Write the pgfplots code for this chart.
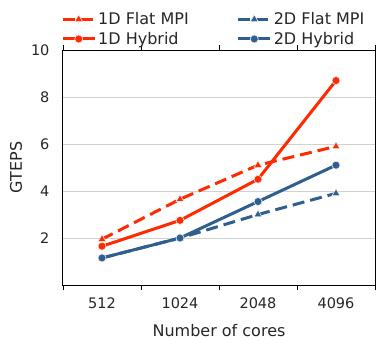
\documentclass[border=0pt]{standalone}
\usepackage{fontspec}
\setmainfont{DejaVu Sans}
\usepackage{pgfplots}
\pgfplotsset{compat=1.18}
\definecolor{cred}{HTML}{FF2A00}
\definecolor{cblue}{HTML}{2F5F8F}
\begin{document}
\begin{tikzpicture}[x=1pt,y=1pt]
\useasboundingbox (-63,-56) rectangle (327,285);
\begin{axis}[at={(0,0)}, anchor=south west, scale only axis,
  width=312pt, height=235pt,
  xmin=-0.5, xmax=3.5, ymin=0, ymax=10,
  xtick={0,1,2,3}, xticklabels={512,1024,2048,4096},
  minor xtick={-0.5,0.5,1.5,2.5,3.5},
  ytick={2,4,6,8,10},
  major tick length=0pt, minor tick length=5pt, tick align=outside,
  minor tick style={black, line width=0.8pt},
  ymajorgrids, grid style={draw=black!18, line width=0.8pt},
  axis line style={black, line width=1pt},
  /pgf/number format/assume math mode=true,
  ticklabel style={font=\fontsize{14.5}{15}\selectfont, text=black!85},
  yticklabel style={xshift=-10pt},
  xticklabel style={yshift=-9pt},
  every axis y label/.style={at={(axis description cs:-0.12,0.5)}, rotate=90, anchor=south, font=\fontsize{16}{16}\selectfont, text=black!85},
  every axis x label/.style={at={(axis description cs:0.5,0)}, anchor=north, yshift=-36pt, font=\fontsize{16}{16}\selectfont, text=black!85},
  ylabel={GTEPS}, xlabel={Number of cores},
  legend columns=2, legend cell align=left,
  legend style={draw=none, fill=none, at={(axis description cs:0,1)}, anchor=south west, xshift=-2pt, yshift=2pt,
    font=\fontsize{16}{17}\selectfont, text=black!85,
    /tikz/every even column/.append style={column sep=46pt}, row sep=2pt, inner sep=0pt},
  legend image code/.code={\draw[mark repeat=2,mark phase=2] plot coordinates {(0pt,0pt) (16pt,0pt) (32pt,0pt)};},
]
\addplot[cred, line width=3pt, dash pattern=on 12pt off 6pt, mark=triangle*, mark size=4.5pt, mark options={solid, fill=cred, draw=white!85!gray, line width=0.6pt}]
  coordinates {(0,1.95) (1,3.65) (2,5.1) (3,5.9)};
\addlegendentry{1D Flat MPI}
\addplot[cblue, line width=3pt, dash pattern=on 12pt off 6pt, mark=triangle*, mark size=4.5pt, mark options={solid, fill=cblue, draw=white!85!gray, line width=0.6pt}]
  coordinates {(0,1.15) (1,2.0) (2,3.0) (3,3.9)};
\addlegendentry{2D Flat MPI}
\addplot[cred, line width=3pt, mark=*, mark size=4pt, mark options={fill=cred, draw=white!85!gray, line width=0.6pt}]
  coordinates {(0,1.65) (1,2.75) (2,4.5) (3,8.7)};
\addlegendentry{1D Hybrid}
\addplot[cblue, line width=3pt, mark=*, mark size=4pt, mark options={fill=cblue, draw=white!85!gray, line width=0.6pt}]
  coordinates {(0,1.15) (1,2.0) (2,3.55) (3,5.1)};
\addlegendentry{2D Hybrid}
\end{axis}
\end{tikzpicture}
\end{document}
